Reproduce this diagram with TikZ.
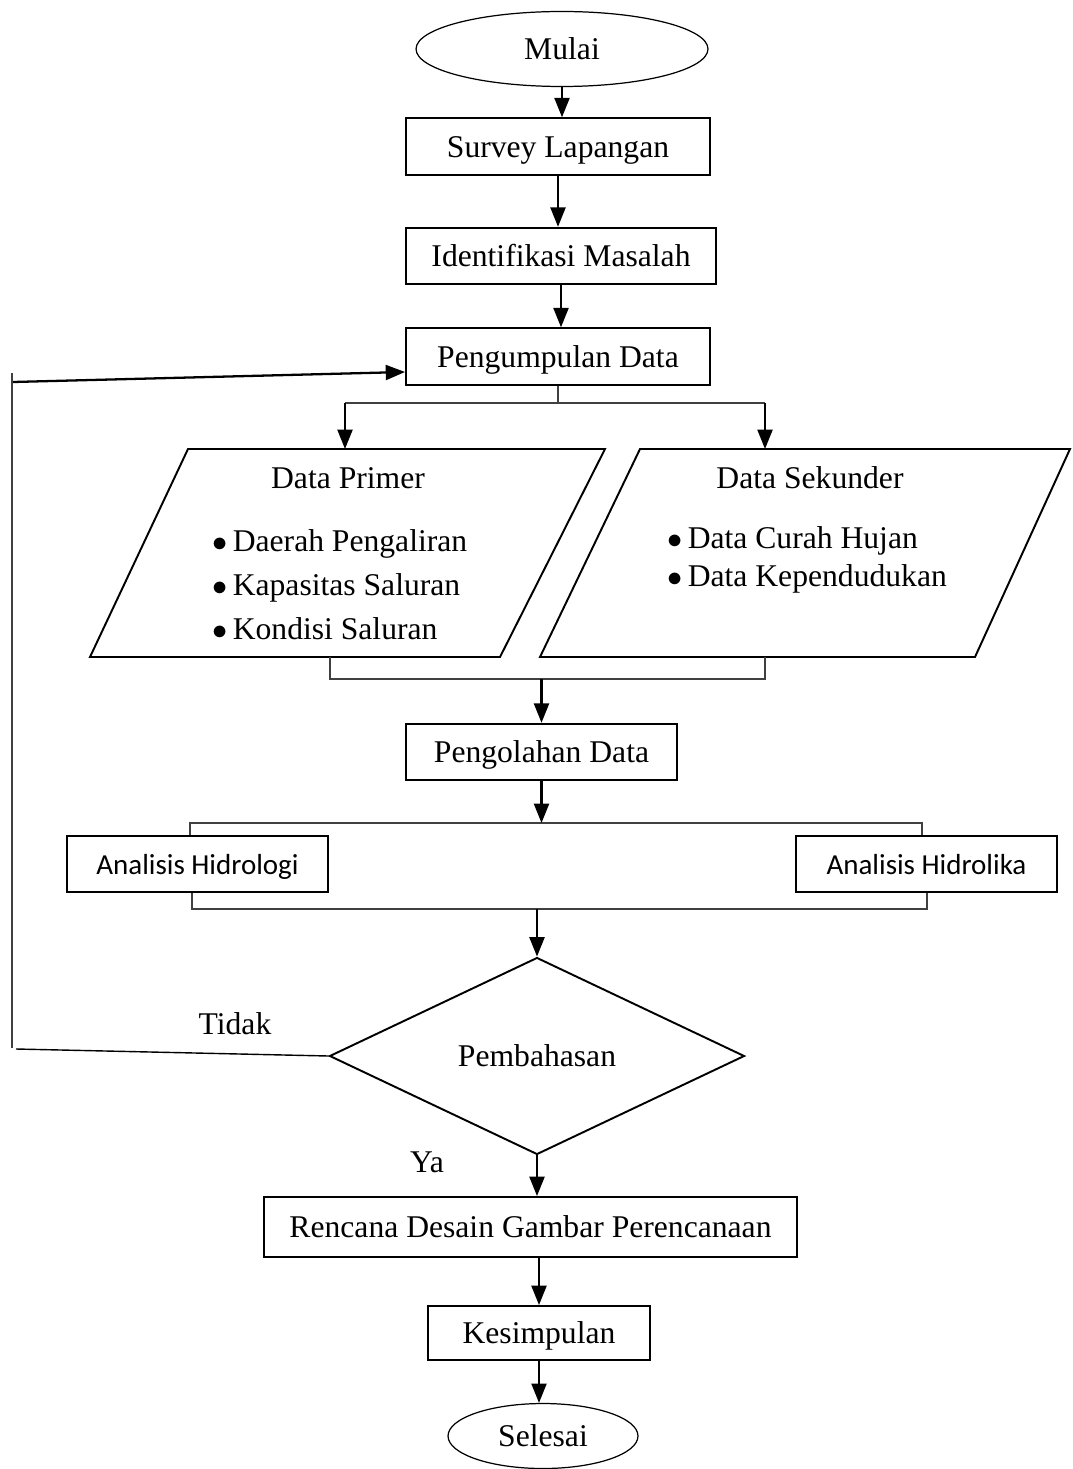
\documentclass[tikz,border=0pt]{standalone}
\usepackage{fontspec}
\setmainfont{Liberation Serif}
\newfontfamily\calibri{Carlito}
\usetikzlibrary{shapes.geometric,arrows.meta}

\begin{document}
\begin{tikzpicture}[x=0.02cm,y=-0.02cm,
    font=\fontsize{18}{22}\selectfont,
    kotak/.style={draw,line width=1.1pt,minimum height=1.13cm,inner sep=2pt,text height=15pt,text depth=3pt},
    oval/.style={draw,ellipse,line width=0.7pt,inner sep=0pt},
    panah/.style={line width=1.3pt,-{Triangle[length=11pt,width=8.5pt]}},
    garis/.style={line width=0.6pt,draw=black!75}]
  \useasboundingbox (0,0) rectangle (1072,1469);

  % urutan atas
  \node[oval,minimum width=5.84cm,minimum height=1.5cm] (mulai) at (562,49) {Mulai};
  \node[kotak,minimum width=6.08cm] (survey) at (558,146.5) {Survey Lapangan};
  \node[kotak,minimum width=6.2cm] (identifikasi) at (561,256) {Identifikasi Masalah};
  \node[kotak,minimum width=6.08cm] (kumpul) at (558,356.5) {Pengumpulan Data};
  \draw[panah] (mulai.south) -- (mulai.south |- survey.north);
  \draw[panah] (survey.south) -- (survey.south |- identifikasi.north);
  \draw[panah] (identifikasi.south) -- (identifikasi.south |- kumpul.north);

  % data primer dan sekunder
  \draw[line width=1.1pt] (188,449) coordinate (p1) -- (605,449) coordinate (p2)
    -- (500,657) coordinate (p3) -- (90,657) coordinate (p4) -- cycle;
  \draw[line width=1.1pt] (640,449) coordinate (q1) -- (1070,449) coordinate (q2)
    -- (975,657) coordinate (q3) -- (540,657) coordinate (q4) -- cycle;
  \node (primer) at (348,478) {Data Primer};
  \node[anchor=west,align=left,inner sep=0pt,font=\fontsize{18}{25}\selectfont] (primerisi) at (212,585)
    {$\bullet$\,Daerah Pengaliran\\ $\bullet$\,Kapasitas Saluran\\ $\bullet$\,Kondisi Saluran};
  \node (sekunder) at (810,478) {Data Sekunder};
  \node[anchor=west,align=left,inner sep=0pt] (sekunderisi) at (667,560)
    {$\bullet$\,Data Curah Hujan\\ $\bullet$\,Data Kependudukan};

  \coordinate (bagiA) at (345,403);
  \coordinate (bagiB) at (765,403);
  \draw[garis] (kumpul.south) -- (kumpul.south |- bagiA);
  \draw[garis] (bagiA) -- (bagiB);
  \draw[panah] (bagiA) -- (bagiA |- p1);
  \draw[panah] (bagiB) -- (bagiB |- q1);

  \node[kotak,minimum width=5.42cm] (olah) at (541.5,752) {Pengolahan Data};
  \coordinate (gabungA) at (330,679);
  \coordinate (gabungB) at (765,679);
  \draw[garis] (gabungA |- p3) -- (gabungA) -- (gabungB) -- (gabungB |- q3);
  \draw[panah] (olah.north |- gabungA) -- (olah.north);

  % analisis
  \node[kotak,minimum width=5.22cm,font=\calibri\fontsize{16.5}{20}\selectfont] (hidrologi) at (197.5,864) {Analisis Hidrologi};
  \node[kotak,minimum width=5.22cm,font=\calibri\fontsize{16.5}{20}\selectfont] (hidrolika) at (926.5,864) {Analisis Hidrolika};
  \coordinate (bagiC) at (190,823);
  \coordinate (bagiD) at (922,823);
  \draw[garis] (bagiC |- hidrologi.north) -- (bagiC) -- (bagiD) -- (bagiD |- hidrolika.north);
  \draw[panah] (olah.south) -- (olah.south |- bagiC);
  \coordinate (gabungC) at (192,909);
  \coordinate (gabungD) at (927,909);
  \draw[garis] (gabungC |- hidrologi.south) -- (gabungC) -- (gabungD) -- (gabungD |- hidrolika.south);

  % keputusan
  \node[draw,diamond,line width=1.1pt,aspect=2.1,minimum width=8.3cm,minimum height=3.94cm,inner sep=0pt] (bahas) at (537,1056) {Pembahasan};
  \draw[panah] (bahas.north |- gabungC) -- (bahas.north);
  \node (tidak) at (235,1024) {Tidak};
  \node (ya) at (427,1162) {Ya};

  % jalur kembali
  \coordinate (balikA) at (16,1049);
  \coordinate (balikB) at (12,1048);
  \coordinate (balikC) at (12,373);
  \coordinate (balikD) at (13,382);
  \draw[line width=0.8pt] (bahas.west) -- (balikA);
  \draw[garis] (balikB) -- (balikC);
  \draw[panah] (balikD) -- ([yshift=-0.31cm]kumpul.west);

  % urutan bawah
  \node[kotak,minimum width=10.66cm,minimum height=1.2cm] (rencana) at (530.5,1227) {Rencana Desain Gambar Perencanaan};
  \node[kotak,minimum width=4.44cm,minimum height=1.08cm] (simpul) at (539,1333) {Kesimpulan};
  \node[oval,minimum width=3.8cm,minimum height=1.3cm] (selesai) at (543,1436) {Selesai};
  \draw[panah] (bahas.south) -- (bahas.south |- rencana.north);
  \draw[panah] (rencana.south -| simpul) -- (simpul.north);
  \draw[panah] (simpul.south) -- (simpul.south |- selesai.north);
\end{tikzpicture}
\end{document}
